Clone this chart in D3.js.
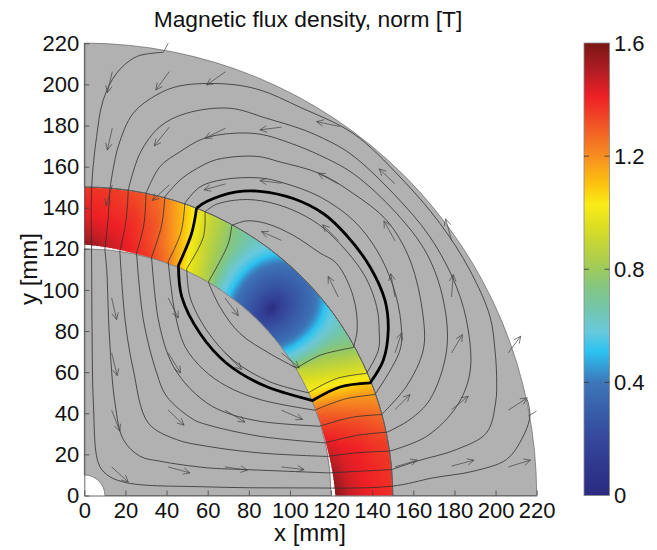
<!DOCTYPE html>
<html>
<head>
<meta charset="utf-8">
<script src="https://cdn.jsdelivr.net/npm/d3@7"></script>
<style>
  body { margin: 0; background: #fff; }
  text { font-family: "Liberation Sans", Arial, sans-serif; fill: #111; }
</style>
</head>
<body>
<script>
var xTicks = d3.range(0, 221, 20)
var yTicks = d3.range(0, 221, 20)
var barTicks = [0, 0.4, 0.8, 1.2, 1.6]

// colormap
var cmapValues = [0, 0.2, 0.4, 0.51, 0.58, 0.66, 0.74, 0.82, 0.95, 1.03, 1.1, 1.2, 1.3, 1.41, 1.5, 1.6]
var cmapColors = ["#2a2a80", "#35479b", "#3d76b8", "#2cc3f0", "#69c8dc", "#72c6ac", "#85c680", "#a6cc52",
                  "#dcdd22", "#f9ec18", "#fdc30e", "#f78e20", "#f15a26", "#ee2025", "#b31d24", "#7a1616"]

// flux density in the iron band, [T], one row per angle (0..90 deg), columns are the radii
var bandAngles = d3.range(0, 91, 5)
var bandRadii = [120, 128, 136, 143, 150]
var bandValues = [
  [1.60, 1.48, 1.42, 1.40, 1.38],
  [1.55, 1.45, 1.41, 1.39, 1.37],
  [1.47, 1.42, 1.40, 1.37, 1.35],
  [1.38, 1.36, 1.33, 1.30, 1.27],
  [1.27, 1.24, 1.20, 1.18, 1.15],
  [1.03, 1.00, 0.97, 0.94, 0.92],
  [0.90, 0.84, 0.80, 0.76, 0.72],
  [0.62, 0.60, 0.58, 0.58, 0.60],
  [0.45, 0.38, 0.38, 0.42, 0.50],
  [0.30, 0.12, 0.20, 0.32, 0.45],
  [0.45, 0.36, 0.36, 0.42, 0.50],
  [0.60, 0.54, 0.55, 0.58, 0.60],
  [0.82, 0.78, 0.76, 0.74, 0.72],
  [1.00, 0.96, 0.92, 0.90, 0.88],
  [1.24, 1.18, 1.13, 1.10, 1.06],
  [1.36, 1.32, 1.30, 1.27, 1.24],
  [1.42, 1.40, 1.38, 1.35, 1.32],
  [1.50, 1.44, 1.40, 1.38, 1.36],
  [1.58, 1.48, 1.42, 1.40, 1.37]
]
// inner edge of the band at the same angles, the ends stand off the gray part
var bandInner = [122, 121.2, 120.4, 120, 120, 120, 120, 120, 120, 120, 120, 120, 120, 120, 120, 120, 120.4, 121.2, 122]

// low spot in the middle of the band: distance from it [mm] and B [T]
var spotCenter = [91, 91]
var spotDist = [0, 2, 4, 8, 12, 16, 19, 21.5, 24, 28, 34]
var spotB = [0.02, 0.08, 0.16, 0.24, 0.30, 0.36, 0.43, 0.51, 0.56, 0.62, 0.72]

// flux lines in mm, a doubled point is a kink at the band edge
var lineA = [[38.4,215.6],[25.4,213.5],[15.7,205.4],[9.2,192.4],[6,174.6],[3.6,150],[3.6,110],[3.8,77.5],[4.4,45],[6.8,15.9],[10.9,10.2],[20.6,6.2],[59.5,4.2],[101.6,3.7],[149.4,4.5],[169.7,8.6],[189.1,11.8],[205.3,17.5],[212.6,27.2],[216.7,38.6],[215.4,46.7]]
var lineB = [[12.5,149.5],[16.5,169.8],[23.8,186],[35.2,194.9],[46.5,199.3],[69.2,200.2],[85.4,197.3],[104.9,188.9],[130.8,176.1],[153.5,155],[173,132.3],[187.5,109.6],[197.3,87],[199.7,70.7],[200.5,58],[200,45],[195.6,30.5],[181.1,22.4],[161.6,16.7],[149.4,12.6],[149.4,12.6],[134,11.8],[118.6,11],[118.6,11],[78.9,12.6],[59.5,13.5],[36.8,16.7],[27.1,19.1],[19,27.2],[14.9,45.1],[12.2,77.5],[10.9,109.9],[10,119.5],[10,119.5],[11.5,134],[12.5,149.5]]
var lineC = [[21.4,148.7],[27.1,166.5],[36.8,179.5],[49.8,186],[70.8,188.4],[88.7,183.5],[104.9,178.5],[114.6,174.5],[129.2,166.4],[150.3,146.9],[168.1,125.8],[181,101.5],[186.7,80.5],[187.5,59.6],[181.1,43.4],[166.5,28.8],[148.6,21.6],[148.6,21.6],[133,20.8],[118,19],[118,19],[85.4,20.7],[59.5,24],[44.9,27.2],[31.1,35.3],[23.8,61.3],[19.8,85.6],[17.3,118.7],[17.3,118.7],[20.3,134],[21.4,148.7]]
var lineD = [[30,147],[36.8,160],[46.5,167.2],[57.8,173.6],[70.8,176.1],[85.4,175.8],[100,171.5],[114.6,165.5],[130.8,156.6],[151.9,137.2],[166.5,117.7],[174.6,95],[176.2,70.7],[168.1,46.7],[158.4,37],[147.3,30.8],[147.3,30.8],[133,29.3],[117,25.6],[117,25.6],[85.4,28.8],[59.5,34.5],[53,37],[40,48.3],[35.2,59.6],[28.7,85.6],[25.4,118],[25.4,118],[29,132],[30,147]]
var lineE = [[39.2,145.4],[46.5,153.4],[54.6,159],[64.3,163.4],[83.8,165],[95.1,162.3],[114.6,156.6],[130.8,146.9],[147,133.9],[158.4,114.5],[164.8,86.9],[164.8,70.7],[156.7,53.2],[144.6,39.4],[144.6,39.4],[130,38],[114.5,33.7],[114.5,33.7],[85.4,36.1],[69.2,40.2],[59.5,45.1],[48.9,54.8],[41.7,66.1],[36,85.6],[32.7,116],[32.7,116],[37.5,131],[39.2,145.4]]
var lineF = [[48.9,142.2],[56.2,150.1],[67.6,153.7],[85.4,154.5],[96.7,152.1],[114.6,145.3],[130.8,133.9],[142.2,119.4],[150.3,101.5],[154,83.7],[153.5,70.7],[141.3,49.1],[141.3,49.1],[127,47],[112,41.5],[112,41.5],[85.4,46.7],[69.2,53.2],[57.9,61.3],[48.9,72.6],[44.1,88.8],[40.8,113.8],[40.8,113.8],[47,128],[48.9,142.2]]
var lineG = [[58.7,138],[64.3,141.7],[78.9,144],[93.5,141.7],[108.1,135.6],[119.4,127.4],[135.7,108],[142.2,91.8],[143.4,80.5],[143,70.7],[137.2,59.4],[137.2,59.4],[122.7,56.9],[109,50],[109,50],[90.3,55.3],[72.5,65.8],[59.5,80.4],[51.4,96.6],[49.8,110.4],[49.8,110.4],[57.9,125.8],[58.7,138]]
var lineH = [[71.7,131.4],[78.9,133.6],[88.6,132.3],[101.6,126.6],[114.6,118],[122.7,112.9],[130.8,96.7],[132.7,80.5],[130.8,72],[130.8,72],[114.6,68.2],[103.3,62],[103.3,62],[90.3,69],[75.7,78.8],[66,91.7],[60.3,103.9],[60.3,103.9],[70,122.5],[71.7,131.4]]
var contour = [[54.6,139.8],[59.5,143],[74,147.7],[85.4,148],[101.6,144.5],[116.2,137.2],[127.6,126.5],[138.9,111.3],[146.2,95],[147.8,80.5],[145.4,65.8],[139,54.8],[139,54.8],[124.4,52.8],[111,46.2],[111,46.2],[87.1,53.6],[69.3,64.2],[56.3,78.8],[47.4,96.6],[45.8,112],[45.8,112],[52.2,127.6],[54.6,139.8]]

// arrows: tail x, tail y, tip x, tip y in mm
var arrows = [
  [13.6,206.2,11.2,196],[41.3,206.2,34.8,197.3],[68.7,206.2,59.5,199.7],
  [13.6,178.7,11.2,168.1],[41.3,179.2,34,170.1],[68.7,178.7,58.7,173.8],[95.9,179.2,85.4,177.9],[124.3,179.5,113,181.9],
  [13.6,151.1,10.5,140.9],[41.3,151.1,33.1,143.5],[68.7,151.6,58.2,148.7],[95.9,151.9,85.4,153.2],[123.5,151.6,113.8,156.8],[151.1,151.6,143.4,158.9],
  [95.9,124.1,86.2,128.4],[123.5,124.1,115.9,131.7],[151.1,123.9,145.7,133.6],[178.6,124.1,175.7,134.6],
  [123.5,96.6,118.6,106.6],[151.1,96.6,149,107.9],[178.6,96.6,179.4,107.5],
  [13.3,96.1,15.7,85.6],[40.8,96.1,45.7,86.4],[68.4,96.1,74.9,87.5],
  [13.3,69.4,16,58.3],[40.8,69.4,46.8,59.6],[68.4,69.4,76.5,61.3],[95.9,69.4,104.5,62.1],
  [151.1,69.4,154.3,79.1],[178.6,69.4,183.9,78.3],[206.2,69.4,212.2,77.5],
  [13.3,41.5,17.3,31.3],[40.8,41.5,48.5,34.2],[68.4,41.5,78.1,35.7],[95.9,41.5,106.2,37],
  [151.1,41.8,158.4,49.1],[178.6,41.8,186.7,48.3],[206.2,41.5,215.4,47.5],
  [13.3,13.9,21.4,6.5],[40.8,13.9,51.4,11],[68.4,13.9,79.3,12.3],[95.9,13.9,106.9,12.6],
  [151.1,13.9,161.9,17.2],[178.6,14.3,189.5,17.2],[206.2,13.9,217,17.2]
]
// two arrows that stick out of the boundary, head hidden
var stubs = [[40.8,220,38.4,215.6],[215.8,38.6,219.9,41]]

var width = 657, height = 550

var x = d3.scaleLinear().domain([0, 220]).range([84.3, 536.7])
var y = d3.scaleLinear().domain([0, 220]).range([495.5, 43.3])
var barY = d3.scaleLinear().domain([0, 1.6]).range([495.5, 43])
var color = d3.scaleLinear().domain(cmapValues).range(cmapColors)
var spotScale = d3.scaleLinear().domain(spotDist).range(spotB).clamp(true)
var innerEdge = d3.scaleLinear().domain(bandAngles).range(bandInner)

var radius = function(r) { return x(r) - x(0) }

var svg = d3.select("body").append("svg")
    .attr("width", width)
    .attr("height", height)
    .style("display", "block")

var plot = svg.append("g")
var geom = plot.append("g").attr("transform", "translate(" + x(0) + "," + y(0) + ")")
var arc = d3.arc()

// gray air regions
var air = [[10, 120], [150, 220]]
geom.selectAll(".air").data(air).enter().append("path")
    .attr("class", "air")
    .attr("d", function(d) {
      return arc({innerRadius: radius(d[0]), outerRadius: radius(d[1]), startAngle: 0, endAngle: Math.PI / 2})
    })
    .attr("fill", "#b1b1b1")
    .attr("stroke", "#555")
    .attr("stroke-width", 0.6)

// shading between the read values of the band table
function tableValue(deg, r) {
  var a = Math.min(Math.floor(deg / 5), bandAngles.length - 2)
  var ta = (deg - bandAngles[a]) / 5
  var i = Math.max(0, Math.min(d3.bisectRight(bandRadii, r) - 1, bandRadii.length - 2))
  var tr = Math.max(0, Math.min((r - bandRadii[i]) / (bandRadii[i + 1] - bandRadii[i]), 1))
  var v0 = bandValues[a][i] * (1 - tr) + bandValues[a][i + 1] * tr
  var v1 = bandValues[a + 1][i] * (1 - tr) + bandValues[a + 1][i + 1] * tr
  return v0 * (1 - ta) + v1 * ta
}

function bandValue(xmm, ymm) {
  var r = Math.sqrt(xmm * xmm + ymm * ymm)
  var deg = Math.atan2(ymm, xmm) * 180 / Math.PI
  var rc = Math.sqrt(spotCenter[0] * spotCenter[0] + spotCenter[1] * spotCenter[1])
  var thc = Math.atan2(spotCenter[1], spotCenter[0]) * 180 / Math.PI
  var along = rc * (deg - thc) * Math.PI / 180
  var across = (r - rc) * 0.75    // the spot is longer across the band than it looks on the bar
  var d = Math.sqrt(along * along + across * across)
  var w = Math.max(0, Math.min((d - 24) / 10, 1))
  return spotScale(d) * (1 - w) + tableValue(deg, r) * w
}

// the band is painted on a canvas at twice the pixel size and put in as an image
var pxScale = 2
var bx0 = x(0), bx1 = x(150), by0 = y(150), by1 = y(0)
var canvas = document.createElement("canvas")
canvas.width = Math.ceil((bx1 - bx0) * pxScale)
canvas.height = Math.ceil((by1 - by0) * pxScale)
var ctx = canvas.getContext("2d")
var img = ctx.createImageData(canvas.width, canvas.height)
for (var j = 0; j < canvas.height; j++) {
  for (var i = 0; i < canvas.width; i++) {
    var mx = x.invert(bx0 + (i + 0.5) / pxScale)
    var my = y.invert(by0 + (j + 0.5) / pxScale)
    var rr = Math.sqrt(mx * mx + my * my)
    if (rr > 150) continue
    var dg = Math.atan2(my, mx) * 180 / Math.PI
    if (rr < innerEdge(dg)) continue
    var c = d3.rgb(color(bandValue(mx, my)))
    var k = (j * canvas.width + i) * 4
    img.data[k] = c.r
    img.data[k + 1] = c.g
    img.data[k + 2] = c.b
    img.data[k + 3] = 255
  }
}
ctx.putImageData(img, 0, 0)

plot.insert("image", "g")
    .attr("x", bx0).attr("y", by0)
    .attr("width", canvas.width / pxScale)
    .attr("height", canvas.height / pxScale)
    .attr("href", canvas.toDataURL())

// band outline
geom.append("path")
    .attr("d", arc({innerRadius: radius(150), outerRadius: radius(150), startAngle: 0, endAngle: Math.PI / 2}))
    .attr("fill", "none").attr("stroke", "#555").attr("stroke-width", 0.6)

var line = d3.line()
    .x(function(d) { return x(d[0]) })
    .y(function(d) { return y(d[1]) })
    .curve(d3.curveCatmullRom.alpha(0.5))

plot.selectAll(".flux").data([lineA, lineB, lineC, lineD, lineE, lineF, lineG, lineH]).enter().append("path")
    .attr("class", "flux")
    .attr("d", line)
    .attr("fill", "none")
    .attr("stroke", "#2e2e2e")
    .attr("stroke-width", 0.8)

plot.append("path")
    .attr("d", line(contour))
    .attr("fill", "none")
    .attr("stroke", "#000")
    .attr("stroke-width", 2.8)

// arrows with two barbs at the tip
function arrowPath(d) {
  var x1 = x(d[0]), y1 = y(d[1]), x2 = x(d[2]), y2 = y(d[3])
  var a = Math.atan2(y1 - y2, x1 - x2)
  var b = 7.5, s = 0.45
  return "M" + x1 + "," + y1 + "L" + x2 + "," + y2 +
    "M" + (x2 + b * Math.cos(a + s)) + "," + (y2 + b * Math.sin(a + s)) +
    "L" + x2 + "," + y2 +
    "L" + (x2 + b * Math.cos(a - s)) + "," + (y2 + b * Math.sin(a - s))
}

plot.selectAll(".arrow").data(arrows).enter().append("path")
    .attr("class", "arrow")
    .attr("d", arrowPath)
    .attr("fill", "none")
    .attr("stroke", "#444")
    .attr("stroke-width", 0.7)

plot.selectAll(".stub").data(stubs).enter().append("line")
    .attr("class", "stub")
    .attr("x1", function(d) { return x(d[0]) })
    .attr("y1", function(d) { return y(d[1]) })
    .attr("x2", function(d) { return x(d[2]) })
    .attr("y2", function(d) { return y(d[3]) })
    .attr("stroke", "#444")
    .attr("stroke-width", 0.7)

// axes
function styleAxis(g) {
  g.selectAll("text").style("font-size", "22px")
  g.selectAll("path,line").attr("stroke", "#444").attr("stroke-width", 0.8)
}

svg.append("g")
    .attr("transform", "translate(0," + y(0) + ")")
    .call(d3.axisBottom(x).tickValues(xTicks).tickSizeInner(-5).tickSizeOuter(0).tickPadding(6.9))
    .call(styleAxis)

svg.append("g")
    .attr("transform", "translate(" + x(0) + ",0)")
    .call(d3.axisLeft(y).tickValues(yTicks).tickSizeInner(-5).tickSizeOuter(0).tickPadding(5))
    .call(styleAxis)

svg.append("text")
    .attr("x", 308).attr("y", 27)
    .attr("text-anchor", "middle")
    .style("font-size", "22.8px")
    .text("Magnetic flux density, norm [T]")

svg.append("text")
    .attr("x", 310).attr("y", 541)
    .attr("text-anchor", "middle")
    .style("font-size", "24px")
    .text("x [mm]")

svg.append("text")
    .attr("transform", "translate(37,269) rotate(-90)")
    .attr("text-anchor", "middle")
    .style("font-size", "24px")
    .text("y [mm]")

// colour bar
var bar = svg.append("g")
var barX0 = 584, barX1 = 609.5

var grad = svg.append("defs").append("linearGradient")
    .attr("id", "cmap")
    .attr("gradientUnits", "userSpaceOnUse")
    .attr("x1", 0).attr("x2", 0)
    .attr("y1", barY(0)).attr("y2", barY(1.6))

grad.selectAll("stop").data(cmapValues).enter().append("stop")
    .attr("offset", function(d) { return d / 1.6 })
    .attr("stop-color", function(d) { return color(d) })

bar.append("rect")
    .attr("x", barX0).attr("y", barY(1.6))
    .attr("width", barX1 - barX0).attr("height", barY(0) - barY(1.6))
    .attr("fill", "url(#cmap)")
    .attr("stroke", "#888").attr("stroke-width", 0.8)

bar.selectAll(".tl").data(barTicks.slice(1, 4)).enter().append("path")
    .attr("class", "tl")
    .attr("d", function(d) {
      return "M" + barX0 + "," + barY(d) + "h5M" + barX1 + "," + barY(d) + "h-5"
    })
    .attr("stroke", "#333").attr("stroke-width", 0.8)

bar.selectAll("text").data(barTicks).enter().append("text")
    .attr("x", barX1 + 4.5)
    .attr("y", function(d) { return barY(d) })
    .attr("dy", "0.35em")
    .style("font-size", "22px")
    .text(function(d) { return d })
</script>
</body>
</html>
